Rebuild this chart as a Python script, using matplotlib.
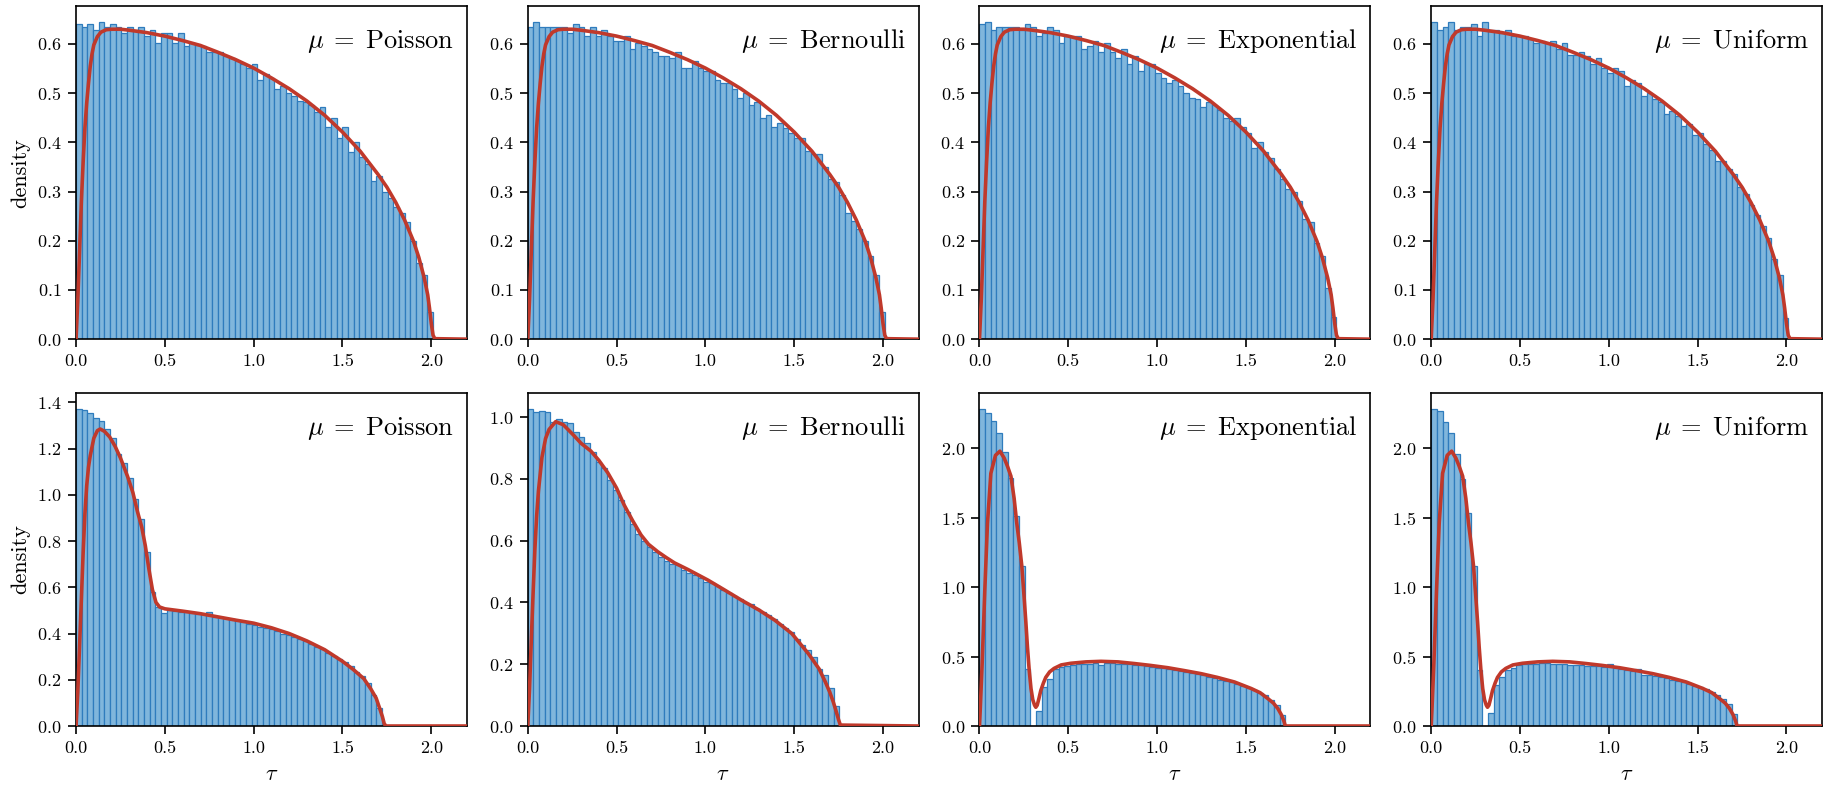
import numpy as np
import matplotlib
matplotlib.use("Agg")
import matplotlib.pyplot as plt

plt.rcParams.update({
    "font.family": "serif",
    "font.serif": ["cmr10"],
    "mathtext.fontset": "cm",
    "axes.formatter.use_mathtext": True,
    "axes.unicode_minus": False,
    "axes.linewidth": 1.2,
    "xtick.major.width": 1.2,
    "ytick.major.width": 1.2,
    "xtick.major.size": 5.5,
    "ytick.major.size": 5.5,
    "xtick.major.pad": 5,
    "ytick.major.pad": 5,
    "xtick.labelsize": 13,
    "ytick.labelsize": 13,
})

# ---------------- data ----------------
distributions = ["Poisson", "Bernoulli", "Exponential", "Uniform"]
bin_width = 0.0319
xticks = [0.0, 0.5, 1.0, 1.5, 2.0]

# top row histograms (density per bin, consecutive bins starting at 0)
top_poisson = [
    0.640, 0.634, 0.640, 0.628, 0.645, 0.634, 0.640, 0.634, 0.622, 0.634,
    0.628, 0.634, 0.616, 0.628, 0.601, 0.622, 0.622, 0.601, 0.622, 0.595,
    0.601, 0.597, 0.595, 0.583, 0.583, 0.583, 0.576, 0.571, 0.565, 0.559,
    0.552, 0.559, 0.526, 0.540, 0.530, 0.508, 0.514, 0.501, 0.495, 0.485,
    0.483, 0.476, 0.461, 0.471, 0.432, 0.450, 0.408, 0.432, 0.380, 0.401,
    0.370, 0.357, 0.321, 0.332, 0.300, 0.287, 0.269, 0.257, 0.238, 0.199,
    0.155, 0.130, 0.055]
top_bernoulli = [
    0.634, 0.645, 0.634, 0.634, 0.634, 0.634, 0.634, 0.622, 0.640, 0.634,
    0.616, 0.634, 0.616, 0.628, 0.616, 0.607, 0.607, 0.616, 0.590, 0.601,
    0.595, 0.590, 0.583, 0.576, 0.576, 0.571, 0.583, 0.552, 0.552, 0.565,
    0.552, 0.546, 0.546, 0.526, 0.520, 0.520, 0.508, 0.490, 0.501, 0.476,
    0.483, 0.450, 0.455, 0.432, 0.440, 0.430, 0.420, 0.408, 0.408, 0.383,
    0.376, 0.376, 0.350, 0.325, 0.319, 0.294, 0.257, 0.240, 0.224, 0.199,
    0.170, 0.130, 0.055]
top_exponential = [
    0.640, 0.645, 0.628, 0.634, 0.634, 0.634, 0.634, 0.628, 0.640, 0.634,
    0.616, 0.622, 0.634, 0.628, 0.601, 0.616, 0.616, 0.616, 0.590, 0.595,
    0.607, 0.583, 0.601, 0.583, 0.571, 0.590, 0.559, 0.576, 0.546, 0.559,
    0.559, 0.541, 0.531, 0.520, 0.526, 0.514, 0.501, 0.490, 0.488, 0.471,
    0.483, 0.475, 0.465, 0.450, 0.444, 0.450, 0.432, 0.420, 0.389, 0.401,
    0.380, 0.369, 0.345, 0.325, 0.306, 0.300, 0.280, 0.245, 0.239, 0.195,
    0.170, 0.105, 0.045]
top_uniform = [
    0.645, 0.628, 0.634, 0.645, 0.628, 0.634, 0.634, 0.640, 0.616, 0.645,
    0.628, 0.628, 0.622, 0.628, 0.616, 0.616, 0.616, 0.610, 0.601, 0.607,
    0.601, 0.607, 0.590, 0.601, 0.578, 0.578, 0.583, 0.576, 0.559, 0.571,
    0.552, 0.541, 0.552, 0.546, 0.514, 0.526, 0.520, 0.495, 0.501, 0.488,
    0.483, 0.457, 0.464, 0.454, 0.433, 0.437, 0.415, 0.420, 0.396, 0.385,
    0.362, 0.362, 0.345, 0.335, 0.310, 0.295, 0.272, 0.252, 0.230, 0.206,
    0.163, 0.130, 0.043]

# bottom row histograms
bot_poisson = [
    1.373, 1.368, 1.355, 1.334, 1.321, 1.286, 1.247, 1.178, 1.140, 1.073,
    0.983, 0.896, 0.752, 0.579, 0.514, 0.491, 0.500, 0.497, 0.493, 0.495,
    0.490, 0.483, 0.485, 0.495, 0.472, 0.470, 0.468, 0.465, 0.460, 0.452,
    0.440, 0.436, 0.430, 0.424, 0.418, 0.410, 0.400, 0.392, 0.384, 0.376,
    0.366, 0.354, 0.342, 0.334, 0.316, 0.305, 0.290, 0.275, 0.260, 0.235,
    0.215, 0.185, 0.135, 0.078]
bot_bernoulli = [
    1.027, 1.015, 1.021, 1.015, 0.985, 0.995, 0.985, 0.980, 0.952, 0.934,
    0.915, 0.888, 0.855, 0.834, 0.796, 0.764, 0.733, 0.693, 0.655, 0.623,
    0.598, 0.580, 0.562, 0.548, 0.535, 0.524, 0.520, 0.505, 0.495, 0.490,
    0.480, 0.466, 0.462, 0.452, 0.440, 0.432, 0.422, 0.412, 0.398, 0.394,
    0.380, 0.370, 0.360, 0.345, 0.330, 0.318, 0.305, 0.283, 0.261, 0.245,
    0.224, 0.183, 0.164, 0.124, 0.064]
bot_exponential = [
    2.286, 2.252, 2.200, 2.108, 1.971, 1.784, 1.512, 1.156, 0.413, 0.0,
    0.111, 0.279, 0.341, 0.413, 0.425, 0.435, 0.440, 0.445, 0.450, 0.450,
    0.455, 0.440, 0.455, 0.455, 0.450, 0.450, 0.445, 0.440, 0.438, 0.432,
    0.425, 0.420, 0.415, 0.410, 0.405, 0.395, 0.390, 0.380, 0.375, 0.365,
    0.355, 0.345, 0.335, 0.325, 0.315, 0.300, 0.290, 0.275, 0.260, 0.240,
    0.220, 0.190, 0.150, 0.080]
bot_uniform = [
    2.286, 2.267, 2.188, 2.108, 1.957, 1.776, 1.531, 1.156, 0.406, 0.0,
    0.096, 0.293, 0.353, 0.400, 0.420, 0.437, 0.445, 0.450, 0.450, 0.452,
    0.452, 0.450, 0.448, 0.445, 0.443, 0.440, 0.437, 0.434, 0.432, 0.430,
    0.428, 0.450, 0.415, 0.408, 0.400, 0.395, 0.410, 0.370, 0.368, 0.360,
    0.352, 0.345, 0.335, 0.325, 0.315, 0.305, 0.290, 0.280, 0.265, 0.245,
    0.225, 0.195, 0.155, 0.085]

# limiting density curves
tau_top = [0.0, 0.01, 0.02, 0.03, 0.04, 0.05, 0.06, 0.07, 0.08, 0.09,
           0.10, 0.12, 0.14, 0.17, 0.20, 0.25, 0.30, 0.40, 0.50, 0.60,
           0.70, 0.80, 0.90, 1.00, 1.10, 1.20, 1.30, 1.40, 1.50, 1.60,
           1.70, 1.75, 1.80, 1.85, 1.90, 1.93, 1.96, 1.98, 1.99, 2.00,
           2.01, 2.02, 2.20]
curve_top = [0.0, 0.08, 0.18, 0.28, 0.36, 0.43, 0.48, 0.52, 0.555, 0.58,
             0.598, 0.615, 0.624, 0.629, 0.630, 0.630, 0.628, 0.623, 0.616, 0.607,
             0.597, 0.583, 0.568, 0.551, 0.531, 0.509, 0.484, 0.455, 0.421, 0.382,
             0.335, 0.309, 0.278, 0.242, 0.199, 0.166, 0.125, 0.09, 0.063, 0.032,
             0.008, 0.001, 0.0]

tau_bot_poisson = [0.0, 0.01, 0.02, 0.03, 0.04, 0.05, 0.06, 0.07, 0.08, 0.10,
                   0.12, 0.136, 0.16, 0.19, 0.22, 0.25, 0.29, 0.32, 0.345, 0.37,
                   0.39, 0.41, 0.43, 0.45, 0.47, 0.50, 0.55, 0.60, 0.70, 0.80,
                   0.90, 1.00, 1.10, 1.20, 1.30, 1.40, 1.50, 1.56, 1.62, 1.66,
                   1.69, 1.71, 1.725, 1.735, 1.745, 2.2]
curve_bot_poisson = [0.0, 0.15, 0.35, 0.55, 0.75, 0.92, 1.04, 1.12, 1.17, 1.245,
                     1.278, 1.285, 1.275, 1.25, 1.21, 1.16, 1.08, 1.01, 0.93, 0.86,
                     0.78, 0.68, 0.59, 0.535, 0.515, 0.507, 0.502, 0.497, 0.486, 0.472,
                     0.458, 0.445, 0.425, 0.400, 0.368, 0.330, 0.280, 0.245, 0.205, 0.160,
                     0.120, 0.075, 0.040, 0.010, 0.0, 0.0]

tau_bot_bernoulli = [0.0, 0.01, 0.02, 0.03, 0.04, 0.05, 0.06, 0.08, 0.10, 0.12,
                     0.157, 0.20, 0.26, 0.30, 0.355, 0.40, 0.45, 0.50, 0.543, 0.59,
                     0.638, 0.68, 0.732, 0.78, 0.826, 0.90, 1.015, 1.10, 1.204, 1.30,
                     1.392, 1.487, 1.58, 1.64, 1.675, 1.70, 1.72, 1.735, 1.75, 1.76,
                     2.2]
curve_bot_bernoulli = [0.0, 0.12, 0.28, 0.43, 0.57, 0.68, 0.76, 0.87, 0.93, 0.96,
                       0.985, 0.975, 0.94, 0.915, 0.89, 0.86, 0.82, 0.77, 0.715, 0.665,
                       0.618, 0.588, 0.564, 0.545, 0.528, 0.507, 0.472, 0.443, 0.407, 0.376,
                       0.342, 0.299, 0.234, 0.185, 0.143, 0.110, 0.078, 0.05, 0.02, 0.003,
                       0.0]

# Exponential and Uniform share the same limiting curve
tau_bot_mixed = [0.0, 0.004, 0.015, 0.03, 0.045, 0.064, 0.09, 0.115, 0.139, 0.158,
                 0.177, 0.195, 0.21, 0.224, 0.238, 0.25, 0.261, 0.27, 0.28, 0.29,
                 0.30, 0.31, 0.317, 0.325, 0.335, 0.345, 0.36, 0.373, 0.395, 0.42,
                 0.46, 0.514, 0.60, 0.684, 0.78, 0.872, 0.96, 1.06, 1.15, 1.248,
                 1.34, 1.436, 1.53, 1.58, 1.624, 1.655, 1.68, 1.70, 1.714, 1.722,
                 2.2]
curve_bot_mixed = [0.0, 0.11, 0.45, 0.98, 1.46, 1.82, 1.95, 1.98, 1.93, 1.87,
                   1.80, 1.64, 1.46, 1.32, 1.156, 0.95, 0.75, 0.57, 0.40, 0.27,
                   0.19, 0.15, 0.135, 0.15, 0.20, 0.255, 0.31, 0.35, 0.39, 0.415,
                   0.44, 0.452, 0.462, 0.466, 0.462, 0.45, 0.437, 0.42, 0.40, 0.377,
                   0.35, 0.317, 0.27, 0.24, 0.197, 0.165, 0.125, 0.08, 0.035, 0.0,
                   0.0]

# ---------------- plot ----------------
hists = [[top_poisson, top_bernoulli, top_exponential, top_uniform],
         [bot_poisson, bot_bernoulli, bot_exponential, bot_uniform]]
curves = [[(tau_top, curve_top)] * 4,
          [(tau_bot_poisson, curve_bot_poisson),
           (tau_bot_bernoulli, curve_bot_bernoulli),
           (tau_bot_mixed, curve_bot_mixed),
           (tau_bot_mixed, curve_bot_mixed)]]

fig, axes = plt.subplots(2, 4, figsize=(18.28, 7.87), dpi=100)
fig.subplots_adjust(left=0.0416, right=0.9967, top=0.9924, bottom=0.0775,
                    wspace=0.156, hspace=0.161)

bar_face = "#80b6dc"
bar_edge = "#2f7cbd"
line_col = "#c0392b"

for r in range(2):
    for c in range(4):
        ax = axes[r, c]
        h = np.asarray(hists[r][c])
        left = np.arange(len(h)) * bin_width
        ax.bar(left, h, width=bin_width, align="edge", facecolor=bar_face,
               edgecolor=bar_edge, linewidth=0.9, zorder=1)
        t, d = curves[r][c]
        ax.plot(t, d, color=line_col, lw=2.6, zorder=3, solid_capstyle="round")
        ax.set_xlim(0, 2.2)
        ax.set_xticks(xticks)
        ax.set_xticklabels([f"{v:.1f}" for v in xticks])
        ax.text(0.967, 0.874, r"$\mu\;=\;\mathrm{%s}$" % distributions[c],
                transform=ax.transAxes, ha="right", va="baseline", fontsize=19)
        if c == 0:
            ax.set_ylabel("density", fontsize=16, labelpad=5)
        if r == 1:
            ax.set_xlabel(r"$\tau$", fontsize=16, labelpad=6)

fig.savefig("out.png", dpi=100)
